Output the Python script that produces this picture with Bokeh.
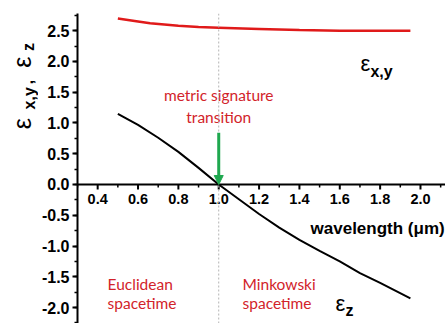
import math
from bokeh.plotting import figure
from bokeh.layouts import row
from bokeh.models import Range1d, SingleIntervalTicker, Span, Arrow, NormalHead, PrintfTickFormatter
from bokeh.core.properties import value
from bokeh.embed import file_html
from bokeh.resources import INLINE

# ---- data ----
wl_xy = [0.50, 0.60, 0.66, 0.80, 0.90, 1.00, 1.20, 1.40, 1.60, 1.80, 1.95]
eps_xy = [2.70, 2.65, 2.62, 2.58, 2.56, 2.55, 2.53, 2.51, 2.50, 2.50, 2.50]
wl_z = [0.50, 0.60, 0.70, 0.80, 0.90, 1.00, 1.10, 1.20, 1.30, 1.40, 1.50, 1.60, 1.70, 1.80, 1.95]
eps_z = [1.15, 0.97, 0.76, 0.53, 0.27, 0.00, -0.24, -0.48, -0.70, -0.90, -1.08, -1.25, -1.44, -1.60, -1.85]
x_major = [0.4, 0.6, 0.8, 1.0, 1.2, 1.4, 1.6, 1.8, 2.0]
x_minor = [0.3, 0.5, 0.7, 0.9, 1.1, 1.3, 1.5, 1.7, 1.9, 2.1]
x_tick_labels = ["0.4", "0.6", "0.8", "1.0", "1.2", "1.4", "1.6", "1.8", "2.0"]
transition_wl = 1.0
arrow_top = 0.84

RED = "#e01a1a"
TXT_RED = "#d2232a"
GREEN = "#1fa84f"
BOLD_FONT = "Liberation Sans"
EPS_FONT = "Liberation Sans"
TXT_FONT = "Lato"

y_rng = Range1d(-2.26, 2.78)

p = figure(width=407, height=323, output_backend="svg", toolbar_location=None,
           x_range=Range1d(0.3, 2.124), y_range=y_rng,
           x_axis_location=None, min_border_left=39, min_border_right=0,
           min_border_top=13, min_border_bottom=0)
p.outline_line_color = None
p.grid.visible = False

# y axis
ya = p.yaxis[0]
ya.ticker = SingleIntervalTicker(interval=0.5, num_minor_ticks=2)
ya.formatter = PrintfTickFormatter(format="%.1f")
ya.axis_line_width = 2
ya.major_tick_line_width = 2
ya.minor_tick_line_width = 1.5
ya.major_tick_in = 0
ya.major_tick_out = 5
ya.minor_tick_in = 0
ya.minor_tick_out = 3
ya.major_label_standoff = 3
ya.major_label_text_font = BOLD_FONT
ya.major_label_text_font_style = "bold"
ya.major_label_text_font_size = "16px"
ya.major_label_text_color = "black"

# x axis drawn at y = 0
p.add_layout(Span(location=0, dimension="width", line_color="black", line_width=2))
px_to_y = 1 / 61.51
p.segment(x0=x_major, x1=x_major, y0=[0] * len(x_major), y1=[-5 * px_to_y] * len(x_major),
          line_color="black", line_width=2)
p.segment(x0=x_minor, x1=x_minor, y0=[0] * len(x_minor), y1=[-3 * px_to_y] * len(x_minor),
          line_color="black", line_width=1.5)
p.text(x=x_major, y=[0] * len(x_major), text=x_tick_labels, y_offset=10,
       text_align="center", text_baseline="top", text_font=value(BOLD_FONT),
       text_font_style="bold", text_font_size="14.5px", text_color="black")
p.text(x=[2.12], y=[-0.71], text=["wavelength (\u03bcm)"], text_align="right",
       text_baseline="middle", text_font=value(BOLD_FONT), text_font_style="bold",
       text_font_size="17px", text_color="black")

# transition line
p.add_layout(Span(location=transition_wl, dimension="height", line_color="#b4b4b4",
                  line_width=1, line_dash="2 2"))

# curves
p.line(wl_xy, eps_xy, line_color=RED, line_width=2.5)
p.line(wl_z, eps_z, line_color="black", line_width=2)

# arrow
p.add_layout(Arrow(end=NormalHead(size=9, fill_color=GREEN, line_color=GREEN),
                   x_start=transition_wl, y_start=arrow_top, x_end=transition_wl, y_end=0.0,
                   line_color=GREEN, line_width=3))

# red annotations
def rtext(x, y, t, align):
    p.text(x=x, y=y, text=t, text_align=align, text_baseline="middle",
           text_font=value(TXT_FONT), text_font_size="15.5px", text_color=TXT_RED)

rtext([transition_wl, transition_wl], [1.46, 1.10], ["metric signature", "transition"], "center")
rtext([0.449, 0.449], [-1.61, -1.92], ["Euclidean", "spacetime"], "left")
rtext([1.118, 1.118], [-1.61, -1.92], ["Minkowski", "spacetime"], "left")

# curve labels
def ptext(fig, x, y, t, size, bold=False, angle=0.0, baseline="alphabetic"):
    fig.text(x=[x], y=[y], text=[t], angle=angle, text_baseline=baseline,
             text_align="left", text_font=value(EPS_FONT),
             text_font_style="bold" if bold else "normal",
             text_font_size=size, text_color="black")

ptext(p, 1.703, 1.967, "\u03b5", "22px")
ptext(p, 1.752, 1.84, "x,y", "16px", bold=True)
ptext(p, 1.579, -1.935, "\u03b5", "22px")
ptext(p, 1.628, -2.05, "z", "16px", bold=True)

# y-axis title panel (rotated pieces), shares the y range
lab = figure(width=38, height=323, output_backend="svg", toolbar_location=None,
             x_range=Range1d(0, 38), y_range=y_rng,
             x_axis_location=None, y_axis_location=None,
             min_border_left=0, min_border_right=0, min_border_top=13, min_border_bottom=0)
lab.outline_line_color = None
lab.grid.visible = False
r = math.pi / 2
ptext(lab, 21, 0.90, "\u03b5", "25px", angle=r, baseline="middle")
ptext(lab, 29, 1.22, "x,y", "16px", bold=True, angle=r, baseline="middle")
ptext(lab, 26, 1.63, ",", "16px", bold=True, angle=r, baseline="middle")
ptext(lab, 21, 1.90, "\u03b5", "25px", angle=r, baseline="middle")
ptext(lab, 28, 2.17, "z", "16px", bold=True, angle=r, baseline="middle")

layout = row(lab, p, spacing=0)
open("out.html", "w").write(file_html(layout, INLINE))
